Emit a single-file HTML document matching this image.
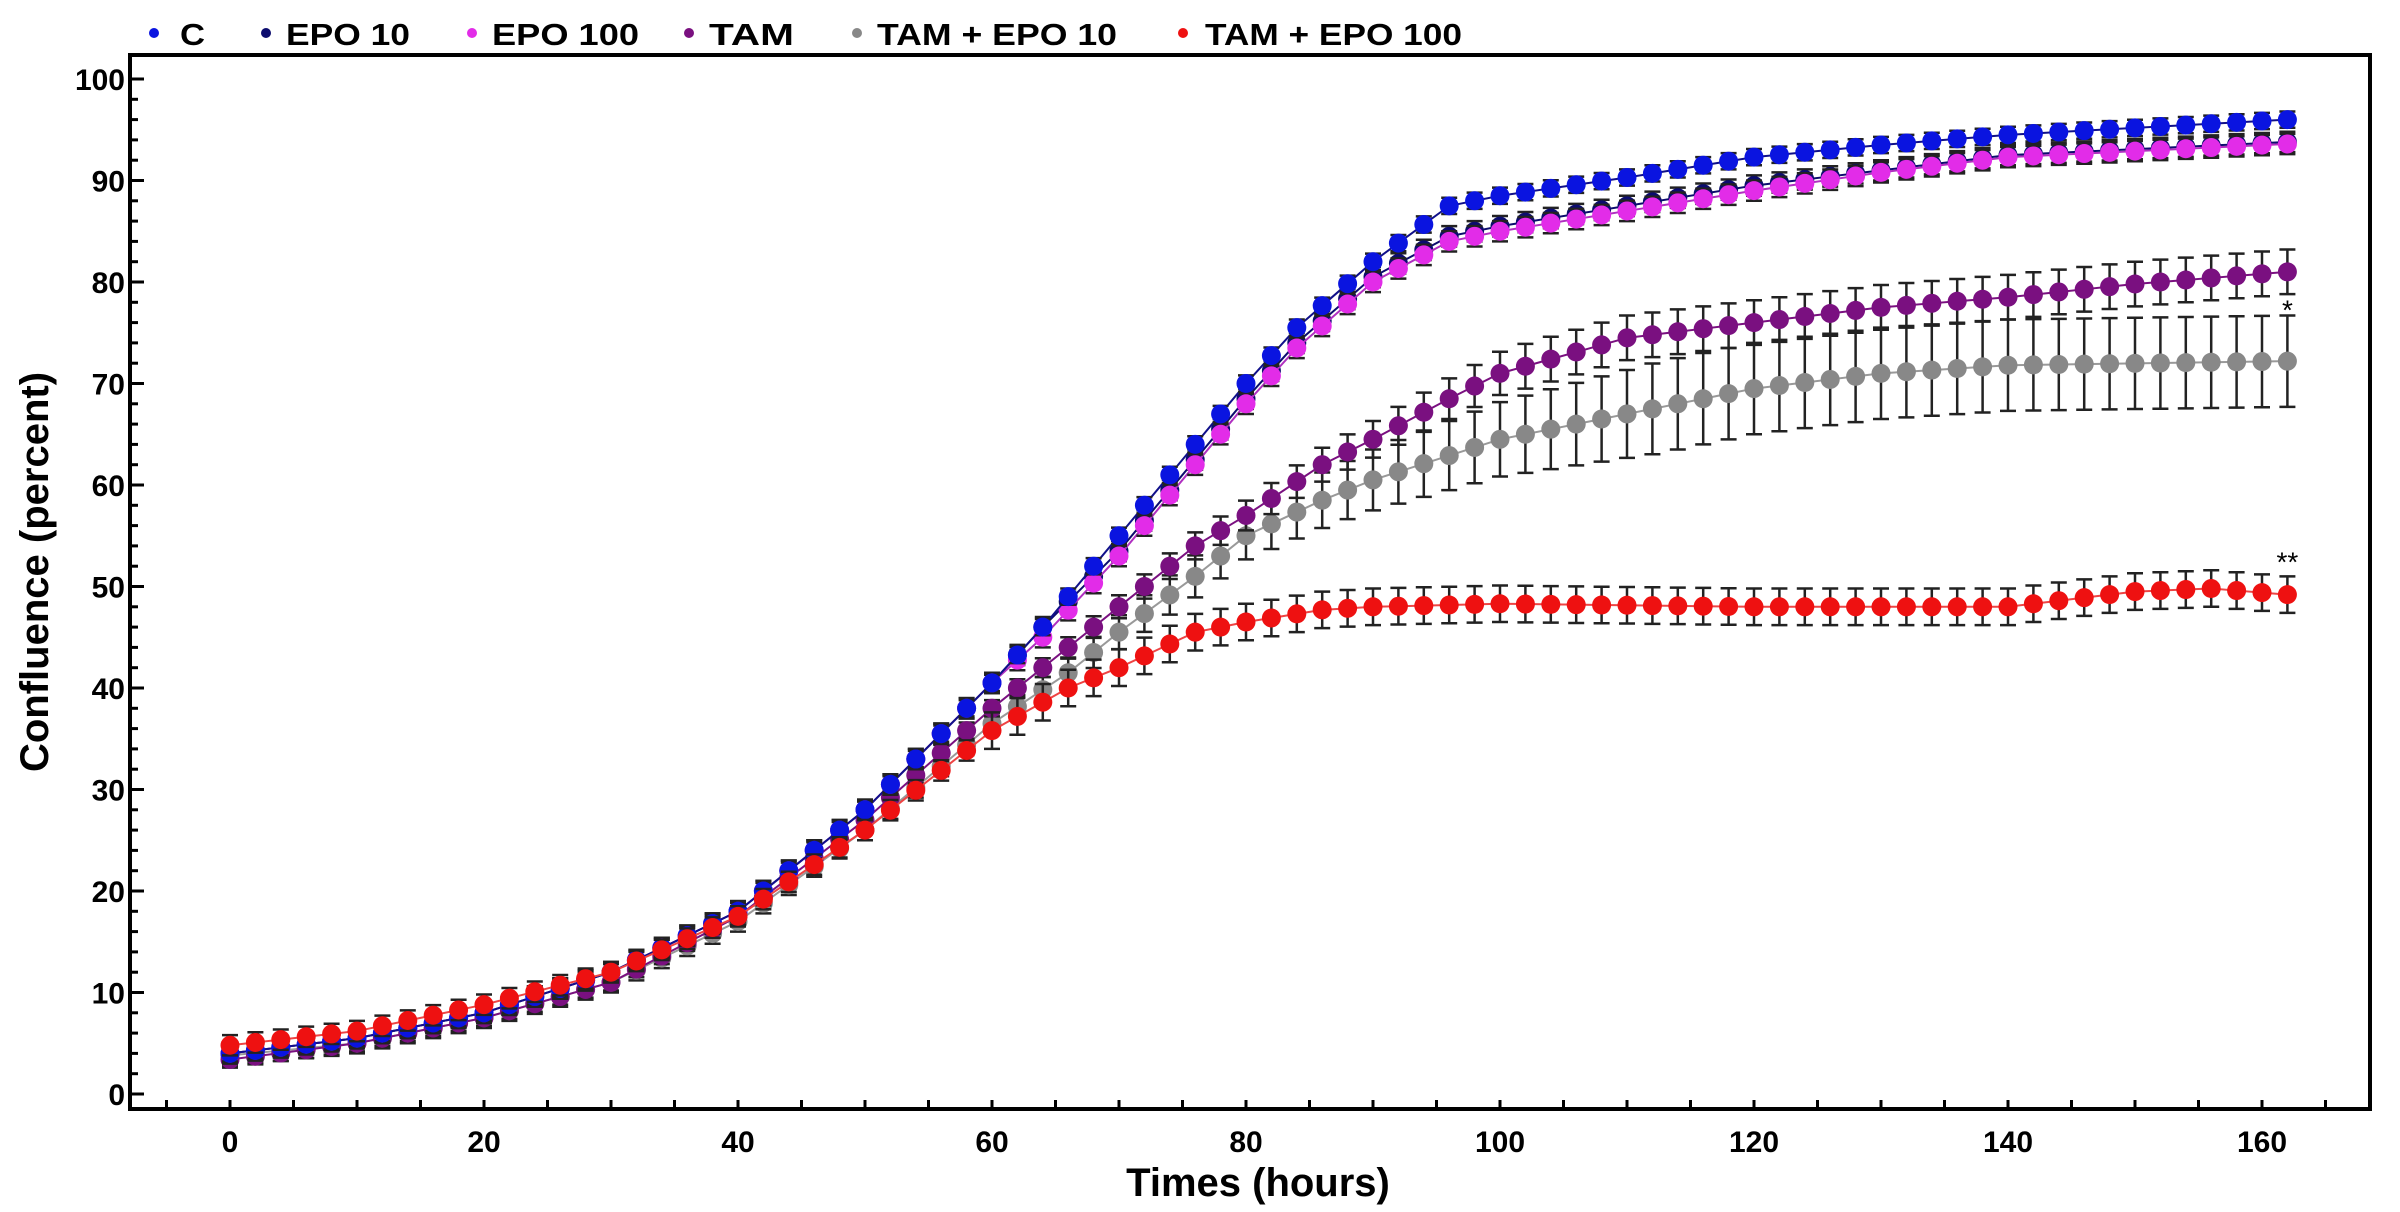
<!DOCTYPE html>
<html><head><meta charset="utf-8"><style>
body{margin:0;background:#fff;width:2400px;height:1212px;overflow:hidden}
svg{display:block}
text{font-family:"Liberation Sans",Arial,sans-serif;font-weight:bold;fill:#000}
</style></head><body>
<svg id="s" width="2400" height="1212" xmlns="http://www.w3.org/2000/svg"></svg>
<script>
const S=document.getElementById('s');
const X0=230,PX=12.7,Y0=1094,PY=10.15;
const xp=t=>X0+t*PX, yp=v=>Y0-v*PY;
let h='';
h+='<rect x="130" y="55" width="2240" height="1054" fill="none" stroke="#000" stroke-width="4"/>';
for(let v=0;v<=100;v+=2){const y=yp(v);const L=v%10==0?14:8;h+=`<line x1="130" x2="${130+L}" y1="${y}" y2="${y}" stroke="#000" stroke-width="3"/>`;
 if(v%10==0)h+=`<text x="125" y="${y+11}" font-size="30" text-anchor="end">${v}</text>`;}
for(let t=-5;t<=165;t+=5){const x=xp(t);h+=`<line x1="${x}" x2="${x}" y1="1109" y2="1100" stroke="#000" stroke-width="3"/>`;
 if(t%20==0&&t>=0)h+=`<text x="${x}" y="1152" font-size="30" text-anchor="middle">${t}</text>`;}
h+='<text x="1258" y="1196" font-size="40" text-anchor="middle">Times (hours)</text>';
h+='<text transform="translate(48,572) rotate(-90)" font-size="40" text-anchor="middle">Confluence (percent)</text>';
const leg=[[154,180,'C','#0a14e0',25],[266,286,'EPO 10','#0c0c6e',124],[472,492,'EPO 100','#e22ce8',147],[689,709,'TAM','#7a1080',85],[857,877,'TAM + EPO 10','#888',240],[1183,1205,'TAM + EPO 100','#ee1111',257]];
leg.forEach(l=>{h+=`<circle cx="${l[0]}" cy="33" r="5" fill="${l[3]}"/><text x="${l[1]}" y="45" font-size="31" textLength="${l[4]}" lengthAdjust="spacingAndGlyphs">${l[2]}</text>`});
function interp(k,t){for(let i=0;i<k.length-1;i++){if(t<=k[i+1][0]){const a=k[i],b=k[i+1];return a[1]+(b[1]-a[1])*(t-a[0])/(b[0]-a[0]);}}return k[k.length-1][1];}
const early=[[0,4],[10,5.5],[20,8],[30,12],[40,18],[50,28],[60,40.5]];
const series=[
 ['#888','#999',[[0,3.8],[10,5],[20,7.5],[30,11],[40,17],[50,26],[60,36.5],[66,41.5],[70,45.5],[76,51],[80,55],[86,58.5],[90,60.5],[100,64.5],[110,67],[120,69.5],[130,71],[140,71.8],[162,72.2]],t=>t<60?1:Math.min(4.5,1+(t-60)/15)],
 ['#7a1080','#7a1080',[[0,3.4],[10,5],[20,7.5],[30,11],[40,17.5],[50,27],[60,38],[66,44],[70,48],[76,54],[80,57],[86,62],[90,64.5],[96,68.5],[100,71],[110,74.5],[120,76],[130,77.5],[140,78.5],[150,79.8],[162,81]],t=>t<60?0.8:Math.min(2.2,0.8+(t-60)/30)],
 ['#0c0c6e','#0c0c6e',early.concat([[64,46],[70,53.5],[74,59.5],[80,68.5],[84,74],[90,80.5],[96,84.5],[100,85.5],[110,87.5],[120,89.5],[130,91],[140,92.5],[162,93.8]]),t=>1],
 ['#e22ce8','#b030c0',early.concat([[64,45],[70,53],[74,59],[80,68],[84,73.5],[90,80],[96,84],[100,85],[110,87],[120,89],[130,90.8],[140,92.3],[162,93.6]]),t=>1],
 ['#0a14e0','#10108a',early.concat([[64,46],[70,55],[74,61],[80,70],[84,75.5],[90,82],[96,87.5],[100,88.5],[110,90.3],[120,92.3],[130,93.5],[140,94.5],[162,96]]),t=>0.8],
 ['#ee1111','#e44',[[0,4.8],[10,6.2],[20,8.8],[30,12],[40,17.5],[50,26],[60,35.8],[66,40],[70,42],[76,45.5],[80,46.5],[86,47.7],[90,48],[100,48.3],[120,48],[140,48],[150,49.5],[156,49.8],[162,49.2]],t=>t<60?1:1.8]
];
series.forEach(s=>{
 let pts=[];for(let t=0;t<=162;t+=2)pts.push([t,interp(s[2],t)]);
 h+=`<polyline fill="none" stroke="${s[1]}" stroke-width="2" points="${pts.map(p=>xp(p[0])+','+yp(p[1])).join(' ')}"/>`;
 pts.forEach(p=>{const x=xp(p[0]),e=s[3](p[0]),y1=yp(p[1]+e),y2=yp(p[1]-e);
  h+=`<path d="M${x},${y1}V${y2}M${x-8},${y1}h16M${x-8},${y2}h16" stroke="#222" stroke-width="2.5" fill="none"/>`;});
 pts.forEach(p=>{h+=`<circle cx="${xp(p[0])}" cy="${yp(p[1])}" r="9.5" fill="${s[0]}"/>`;});
});
h+=`<rect x="${xp(162)-9}" y="${yp(78.6)}" width="18" height="14" fill="#fff"/>`;
h+=`<text x="${xp(162)}" y="${yp(76.3)}" font-size="28" text-anchor="middle" style="font-weight:normal">*</text>`;
h+=`<text x="${xp(162)}" y="${yp(51.5)}" font-size="28" text-anchor="middle" style="font-weight:normal">**</text>`;
S.innerHTML=h;
</script>
</body></html>
